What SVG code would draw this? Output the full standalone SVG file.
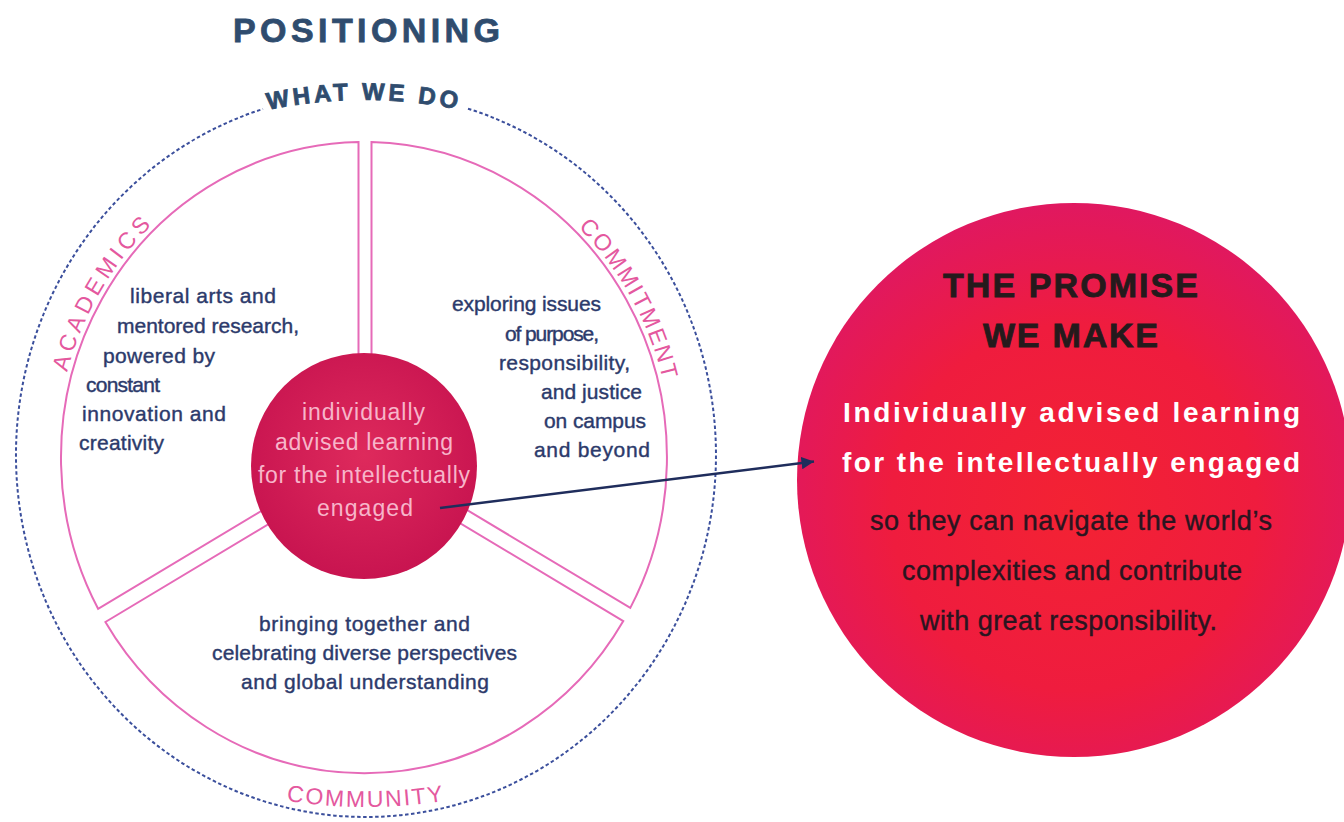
<svg xmlns="http://www.w3.org/2000/svg" width="1344" height="822" viewBox="0 0 1344 822">
<defs>
<radialGradient id="gBig" cx="0.5" cy="0.55" r="0.55">
<stop offset="0" stop-color="#f32233"/>
<stop offset="0.6" stop-color="#ef1c3e"/>
<stop offset="1" stop-color="#e01860"/>
</radialGradient>
<radialGradient id="gSmall" cx="0.5" cy="0.45" r="0.55">
<stop offset="0" stop-color="#de2a5c"/>
<stop offset="1" stop-color="#c81450"/>
</radialGradient>
<marker id="arrow" viewBox="0 0 10 10" refX="10" refY="5" markerWidth="5" markerHeight="5" orient="auto" markerUnits="strokeWidth">
<path d="M0,0 L10,5 L0,10 z" fill="#1f2d5c"/>
</marker>
<path id="pWhat" d="M -39.6 333 A 466 466 0 0 1 767.6 333"/>
<path id="pAcad" d="M 92.1 608.0 A 308 320.5 0 0 1 374.7 137.2"/>
<path id="pComm" d="M 361.3 137.0 A 308 320.5 0 0 1 632.1 615.3"/>
<path id="pCommu" d="M -34 607 A 500 500 0 0 0 766 607"/>
</defs>
<style>
.title{font-family:"Liberation Sans",Arial,sans-serif;font-weight:bold;fill:#2f4c6e;stroke:#2f4c6e;stroke-width:0.8}
.body{font-family:"Liberation Sans",Arial,sans-serif;font-size:21px;fill:#2c3a6b;stroke:#2c3a6b;stroke-width:0.4}
.core{font-family:"Liberation Sans",Arial,sans-serif;font-size:23px;fill:#f7b5ca}
.label{font-family:"Liberation Sans",Arial,sans-serif;font-size:23px;fill:#e4589e}
.sector{fill:none;stroke:#e66ab8;stroke-width:2}
.ring{fill:none;stroke:#3b4f9c;stroke-width:2;stroke-dasharray:3.5 2.5}
.phead{font-family:"Liberation Sans",Arial,sans-serif;font-size:34px;font-weight:bold;fill:#251a1c;stroke:#251a1c;stroke-width:0.8}
.pwhite{font-family:"Liberation Sans",Arial,sans-serif;font-size:28px;font-weight:bold;fill:#ffffff}
.pdark{font-family:"Liberation Sans",Arial,sans-serif;font-size:27px;fill:#2a1520;stroke:#2a1520;stroke-width:0.4}
.conn{fill:none;stroke:#1f2d5c;stroke-width:2.5}
</style>
<rect width="1344" height="822" fill="#ffffff"/>

<g id="title">
<text class="title" x="233" y="42" font-size="34" textLength="267">POSITIONING</text>
</g>

<g id="what-we-do">
<path class="ring" d="M 468 108.7 A 350 362 0 1 1 263 109"/>
<text class="title" font-size="24" letter-spacing="3.5" text-anchor="middle"><textPath href="#pWhat" startOffset="50%">WHAT WE DO</textPath></text>
</g>

<g id="academics">
<path class="sector" d="M 358.5 452.7 L 358.5 142.05 A 303 315.5 0 0 0 98.1 608.8 Z"/>
<text class="label" letter-spacing="4.3" text-anchor="middle"><textPath href="#pAcad" startOffset="50%">ACADEMICS</textPath></text>
<text class="body" x="130" y="303" textLength="146">liberal arts and</text>
<text class="body" x="117" y="333" textLength="182">mentored research,</text>
<text class="body" x="103" y="363" textLength="112">powered by</text>
<text class="body" x="86" y="392" textLength="74">constant</text>
<text class="body" x="82" y="421" textLength="144">innovation and</text>
<text class="body" x="79" y="450" textLength="85">creativity</text>
</g>

<g id="commitment">
<path class="sector" d="M 371.5 452.7 L 371.5 142.1 A 303 315.5 0 0 1 630.3 607.9 Z"/>
<text class="label" letter-spacing="2" text-anchor="middle"><textPath href="#pComm" startOffset="50%">COMMITMENT</textPath></text>
<text class="body" x="452" y="311" textLength="149">exploring issues</text>
<text class="body" x="505" y="341" textLength="94">of purpose,</text>
<text class="body" x="499" y="370" textLength="131">responsibility,</text>
<text class="body" x="541" y="399" textLength="101">and justice</text>
<text class="body" x="544" y="428" textLength="102">on campus</text>
<text class="body" x="534" y="457" textLength="116">and beyond</text>
</g>

<g id="community">
<path class="sector" d="M 365 466.2 L 105.4 622.0 A 303 315.5 0 0 0 623.3 621.1 Z"/>
<text class="label" font-size="24" letter-spacing="2" text-anchor="middle"><textPath href="#pCommu" startOffset="50%">COMMUNITY</textPath></text>
<text class="body" x="259" y="631" textLength="211">bringing together and</text>
<text class="body" x="212" y="660" textLength="305">celebrating diverse perspectives</text>
<text class="body" x="241" y="689" textLength="248">and global understanding</text>
</g>

<g id="core">
<circle cx="364" cy="466" r="113" fill="url(#gSmall)"/>
<text class="core" x="302" y="420" textLength="123">individually</text>
<text class="core" x="275" y="450" textLength="178">advised learning</text>
<text class="core" x="258" y="483" textLength="212">for the intellectually</text>
<text class="core" x="317" y="516" textLength="96">engaged</text>
</g>

<g id="promise">
<circle cx="1074" cy="480" r="277" fill="url(#gBig)"/>
<text class="phead" x="943" y="297" textLength="255">THE PROMISE</text>
<text class="phead" x="983" y="347" textLength="175">WE MAKE</text>
<text class="pwhite" x="843" y="422" textLength="457">Individually advised learning</text>
<text class="pwhite" x="842" y="472" textLength="458">for the intellectually engaged</text>
<text class="pdark" x="870" y="530" textLength="402">so they can navigate the world’s</text>
<text class="pdark" x="902" y="580" textLength="340">complexities and contribute</text>
<text class="pdark" x="920" y="630" textLength="297">with great responsibility.</text>
</g>

<g id="connectors">
<path class="conn" d="M 440 508 L 814 461.5" marker-end="url(#arrow)"/>
</g>
</svg>
